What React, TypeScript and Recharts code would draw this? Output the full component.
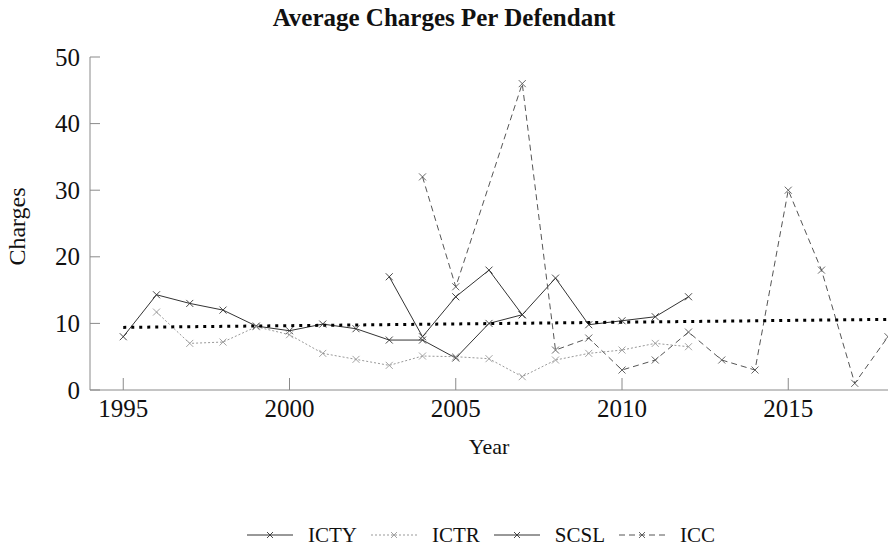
import { Legend, Line, LineChart, XAxis, YAxis } from 'recharts'

const ICTY_YEARS = [1995, 1996, 1997, 1998, 1999, 2000, 2001, 2002, 2003, 2004, 2005, 2006, 2007, 2008, 2009, 2010, 2011, 2012]
const ICTY = [8.0, 14.3, 13.0, 12.0, 9.6, 8.9, 9.9, 9.2, 7.5, 7.5, 4.8, 10.0, 11.3, 16.8, 9.8, 10.4, 11.0, 14.0]

const ICTR_YEARS = [1996, 1997, 1998, 1999, 2000, 2001, 2002, 2003, 2004, 2005, 2006, 2007, 2008, 2009, 2010, 2011, 2012]
const ICTR = [11.7, 7.0, 7.2, 9.5, 8.3, 5.5, 4.6, 3.7, 5.1, 5.0, 4.7, 2.0, 4.5, 5.5, 6.0, 7.0, 6.5]

const SCSL_YEARS = [2003, 2004, 2005, 2006, 2007]
const SCSL = [17.0, 8.0, 14.0, 18.0, 11.3]

const ICC_YEARS = [2004, 2005, 2007, 2008, 2009, 2010, 2011, 2012, 2013, 2014, 2015, 2016, 2017, 2018]
const ICC = [32.0, 15.5, 46.0, 6.0, 7.8, 3.0, 4.5, 8.7, 4.5, 3.0, 30.0, 18.0, 1.0, 8.0]

const TREND_YEARS = [1995, 2018]
const TREND = [9.4, 10.6]

const X_TICKS = [1995, 2000, 2005, 2010, 2015]
const Y_TICKS = [0, 10, 20, 30, 40, 50]

const FONT = '"Liberation Serif", "Times New Roman", serif'
const AXIS = '#8a8a8a'

const toRows = (years: number[], values: number[]) =>
  years.map((year, i) => ({ year, value: values[i] }))

interface SeriesDef {
  name: string
  colour: string
  dash?: string
  data: { year: number; value: number }[]
}

const SERIES: SeriesDef[] = [
  { name: 'ICTY', colour: '#333', data: toRows(ICTY_YEARS, ICTY) },
  { name: 'ICTR', colour: '#999', dash: '2 2', data: toRows(ICTR_YEARS, ICTR) },
  { name: 'SCSL', colour: '#333', data: toRows(SCSL_YEARS, SCSL) },
  { name: 'ICC', colour: '#555', dash: '6 4', data: toRows(ICC_YEARS, ICC) },
]

const cross = (cx: number, cy: number, r = 3.5) =>
  `M${cx - r},${cy - r}L${cx + r},${cy + r}M${cx - r},${cy + r}L${cx + r},${cy - r}`

const makeDot = (colour: string) => (props: any) => {
  const { cx, cy, index } = props
  if (cx == null || cy == null) return <g key={index} />
  return <path key={index} d={cross(cx, cy)} stroke={colour} strokeWidth={0.9} fill="none" />
}

const XTick = (props: any) => {
  const { x, y, payload } = props
  return (
    <g>
      <line x1={x} y1={y} x2={x} y2={y - 12} stroke={AXIS} />
      <text x={x} y={y + 27} textAnchor="middle" fontSize={25} fontFamily={FONT} fill="#111">
        {payload.value}
      </text>
    </g>
  )
}

const YTick = (props: any) => {
  const { x, y, payload } = props
  return (
    <g>
      <line x1={x} y1={y} x2={x + 10} y2={y} stroke={AXIS} />
      <text x={x - 10} y={y} textAnchor="end" dominantBaseline="central" fontSize={25} fontFamily={FONT} fill="#111">
        {payload.value}
      </text>
    </g>
  )
}

const LegendContent = () => (
  <div
    style={{
      display: 'flex',
      alignItems: 'center',
      height: 20,
      paddingLeft: 247,
      fontFamily: FONT,
      fontSize: 21,
      color: '#111',
      lineHeight: '20px',
    }}
  >
    {SERIES.map((s) => (
      <div key={s.name} style={{ display: 'flex', alignItems: 'center', marginRight: 14 }}>
        <svg width={46} height={20}>
          <line x1={0} y1={10} x2={46} y2={10} stroke={s.colour} strokeWidth={1} strokeDasharray={s.dash} />
          <path d={cross(23, 10, 3)} stroke={s.colour} strokeWidth={0.9} fill="none" />
        </svg>
        <span style={{ marginLeft: 15 }}>{s.name}</span>
      </div>
    ))}
  </div>
)

export default function App() {
  return (
    <div style={{ position: 'absolute', left: 0, top: 0, width: 888, height: 553, background: '#fff' }}>
      <div
        style={{
          position: 'absolute',
          top: 5,
          left: 0,
          width: 888,
          textAlign: 'center',
          fontFamily: FONT,
          fontWeight: 'bold',
          fontSize: 25,
          lineHeight: '25px',
          color: '#111',
        }}
      >
        Average Charges Per Defendant
      </div>
      <LineChart width={888} height={553} margin={{ top: 57, right: 0, bottom: 8, left: 0 }}>
        <XAxis
          dataKey="year"
          type="number"
          domain={[1994, 2018]}
          ticks={X_TICKS}
          allowDataOverflow
          height={135}
          tickSize={0}
          tickMargin={0}
          tick={<XTick />}
          axisLine={{ stroke: AXIS }}
          label={{
            content: (p: any) => {
              const vb = p.viewBox
              return (
                <text x={vb.x + vb.width / 2} y={vb.y + 64} textAnchor="middle" fontSize={22} fontFamily={FONT} fill="#111">
                  Year
                </text>
              )
            },
          }}
        />
        <YAxis
          type="number"
          domain={[0, 50]}
          ticks={Y_TICKS}
          width={90}
          tickSize={0}
          tickMargin={0}
          tick={<YTick />}
          axisLine={{ stroke: AXIS }}
          label={{
            content: (p: any) => {
              const vb = p.viewBox
              const cx = vb.x + 17
              const cy = vb.y + vb.height / 2 + 3
              return (
                <text
                  x={cx}
                  y={cy}
                  transform={`rotate(-90 ${cx} ${cy})`}
                  textAnchor="middle"
                  dominantBaseline="central"
                  fontSize={24}
                  fontFamily={FONT}
                  fill="#111"
                >
                  Charges
                </text>
              )
            },
          }}
        />
        <Legend verticalAlign="bottom" content={<LegendContent />} wrapperStyle={{ left: 0, width: 888 }} />
        {SERIES.map((s) => (
          <Line
            key={s.name}
            data={s.data}
            dataKey="value"
            name={s.name}
            type="linear"
            stroke={s.colour}
            strokeWidth={1}
            strokeDasharray={s.dash}
            dot={makeDot(s.colour)}
            activeDot={false}
            isAnimationActive={false}
          />
        ))}
        <Line
          data={toRows(TREND_YEARS, TREND)}
          dataKey="value"
          name="Trend"
          type="linear"
          stroke="#000"
          strokeWidth={3}
          strokeDasharray="3 5"
          dot={false}
          activeDot={false}
          legendType="none"
          isAnimationActive={false}
        />
      </LineChart>
    </div>
  )
}
